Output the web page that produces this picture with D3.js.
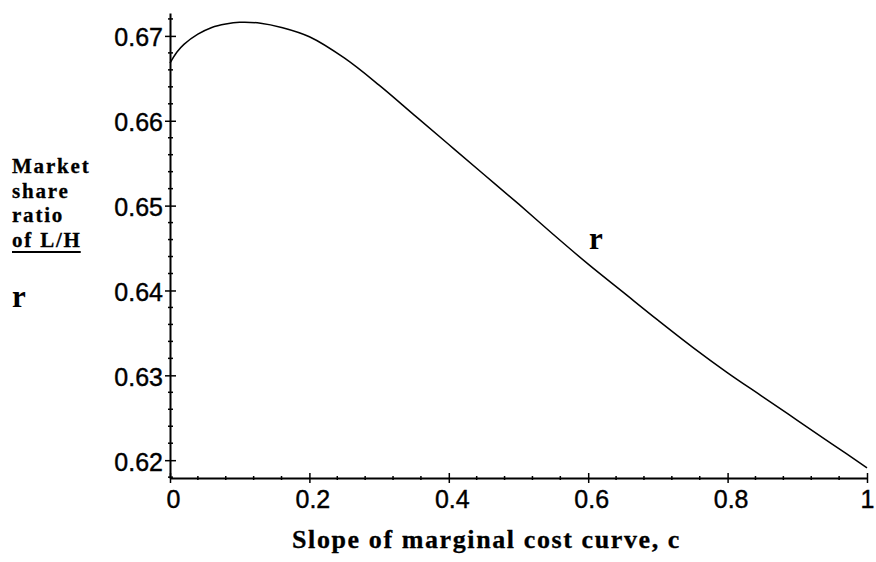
<!DOCTYPE html>
<html>
<head>
<meta charset="utf-8">
<script src="https://cdn.jsdelivr.net/npm/d3@7"></script>
<style>
  body { margin: 0; background: #fff; }
  svg { display: block; }
</style>
</head>
<body>
<div id="chart"></div>
<script>
// Data
const cValues = [0, 0.01, 0.02, 0.04, 0.06, 0.08, 0.1, 0.13, 0.16, 0.2, 0.25, 0.3, 0.35, 0.4, 0.45, 0.5,
                 0.55, 0.6, 0.65, 0.7, 0.75, 0.8, 0.85, 0.9, 0.95, 1.0];
const rValues = [0.6668, 0.6681, 0.6690, 0.6702, 0.6710, 0.6714, 0.6716, 0.6715, 0.6710, 0.6699, 0.6674, 0.6642, 0.6607, 0.6572, 0.6537, 0.6502,
                 0.6466, 0.6431, 0.6398, 0.6365, 0.6333, 0.6303, 0.6275, 0.6247, 0.6219, 0.6191];
const xTicks = [0, 0.2, 0.4, 0.6, 0.8, 1];
const xTickLabels = ["0", "0.2", "0.4", "0.6", "0.8", "1"];
const yTicks = [0.62, 0.63, 0.64, 0.65, 0.66, 0.67];
const yTickLabels = ["0.62", "0.63", "0.64", "0.65", "0.66", "0.67"];
const yLabelLines = ["Market", "share", "ratio", "of L/H"];

const width = 876, height = 562;

let svg = d3.select("#chart")
    .append("svg")
    .attr("width", width)
    .attr("height", height);

let x = d3.scaleLinear().domain([0, 1]).range([170, 867]);
let y = d3.scaleLinear().domain([0.6179, 0.6727]).range([478, 13]);

const tickFont = "'Liberation Sans', Arial, sans-serif";
const labelFont = "'Liberation Serif', 'Times New Roman', serif";

// Minor ticks (crossing the axes)
const xMinor = d3.range(0.04, 1, 0.04).filter(v => Math.abs(v * 5 - Math.round(v * 5)) > 1e-6);
const yMinor = d3.range(0.618, 0.6725, 0.002).filter(v => Math.abs(v * 100 - Math.round(v * 100)) > 1e-6);

svg.append("g").selectAll("line")
    .data(xMinor)
    .enter().append("line")
    .attr("x1", d => x(d)).attr("x2", d => x(d))
    .attr("y1", y.range()[0] - 2).attr("y2", y.range()[0] + 2)
    .attr("stroke", "#000").attr("stroke-width", 1.5);

svg.append("g").selectAll("line")
    .data(yMinor)
    .enter().append("line")
    .attr("x1", x(0) - 2).attr("x2", x(0) + 3)
    .attr("y1", d => y(d)).attr("y2", d => y(d))
    .attr("stroke", "#000").attr("stroke-width", 1.5);

// X axis
let xAxis = svg.append("g")
    .attr("transform", "translate(0," + y.range()[0] + ")")
    .call(d3.axisBottom(x).tickValues(xTicks).tickFormat((d, i) => xTickLabels[i]).tickSize(5).tickSizeOuter(0));
xAxis.select(".domain").attr("stroke-width", 2);
xAxis.selectAll(".tick line").attr("y1", -5).attr("y2", 5).attr("stroke-width", 1.5);
xAxis.selectAll(".tick text")
    .attr("y", 30).attr("dy", 0).attr("dx", (d, i) => i === xTicks.length - 1 ? 0 : 3)
    .style("font-family", tickFont).style("font-size", "25px")
    .attr("fill", "#000").attr("stroke", "#000").attr("stroke-width", 0.4);

// Y axis
let yAxis = svg.append("g")
    .attr("transform", "translate(" + x(0) + ",0)")
    .call(d3.axisLeft(y).tickValues(yTicks).tickFormat((d, i) => yTickLabels[i]).tickSize(5).tickSizeOuter(0));
yAxis.select(".domain").attr("stroke-width", 2);
yAxis.selectAll(".tick line").attr("x1", -5).attr("x2", 6).attr("stroke-width", 1.5);
yAxis.selectAll(".tick text")
    .attr("x", -7).attr("dy", 10)
    .style("font-family", tickFont).style("font-size", "25px")
    .attr("fill", "#000").attr("stroke", "#000").attr("stroke-width", 0.4);

// Curve
let line = d3.line()
    .x((d, i) => x(cValues[i]))
    .y(d => y(d))
    .curve(d3.curveCatmullRom);

svg.append("path")
    .datum(rValues)
    .attr("d", line)
    .attr("fill", "none")
    .attr("stroke", "#000")
    .attr("stroke-width", 1.5);

// Curve label
svg.append("text")
    .attr("x", 589).attr("y", 249)
    .style("font-family", labelFont).style("font-weight", "bold").style("font-size", "31px")
    .text("r");

// Y axis title
let yTitle = svg.append("g");
yLabelLines.forEach(function(t, i) {
    yTitle.append("text")
        .attr("x", 12).attr("y", 173 + i * 24.5)
        .style("font-family", labelFont).style("font-weight", "bold").style("font-size", "21px")
        .style("letter-spacing", "1.8px")
        .attr("stroke", "#000").attr("stroke-width", 0.3)
        .text(t);
});
let lastLine = yTitle.selectAll("text").nodes()[yLabelLines.length - 1];
let bb = lastLine.getBBox();
yTitle.append("line")
    .attr("x1", 12).attr("x2", bb.x + bb.width - 1)
    .attr("y1", 252).attr("y2", 252)
    .attr("stroke", "#000").attr("stroke-width", 2);

yTitle.append("text")
    .attr("x", 12).attr("y", 307)
    .style("font-family", labelFont).style("font-weight", "bold").style("font-size", "31px")
    .text("r");

// X axis title
svg.append("text")
    .attr("x", 292).attr("y", 548)
    .style("font-family", labelFont).style("font-weight", "bold").style("font-size", "26px")
    .style("letter-spacing", "1.6px")
    .attr("stroke", "#000").attr("stroke-width", 0.3)
    .text("Slope of marginal cost curve, c");
</script>
</body>
</html>
